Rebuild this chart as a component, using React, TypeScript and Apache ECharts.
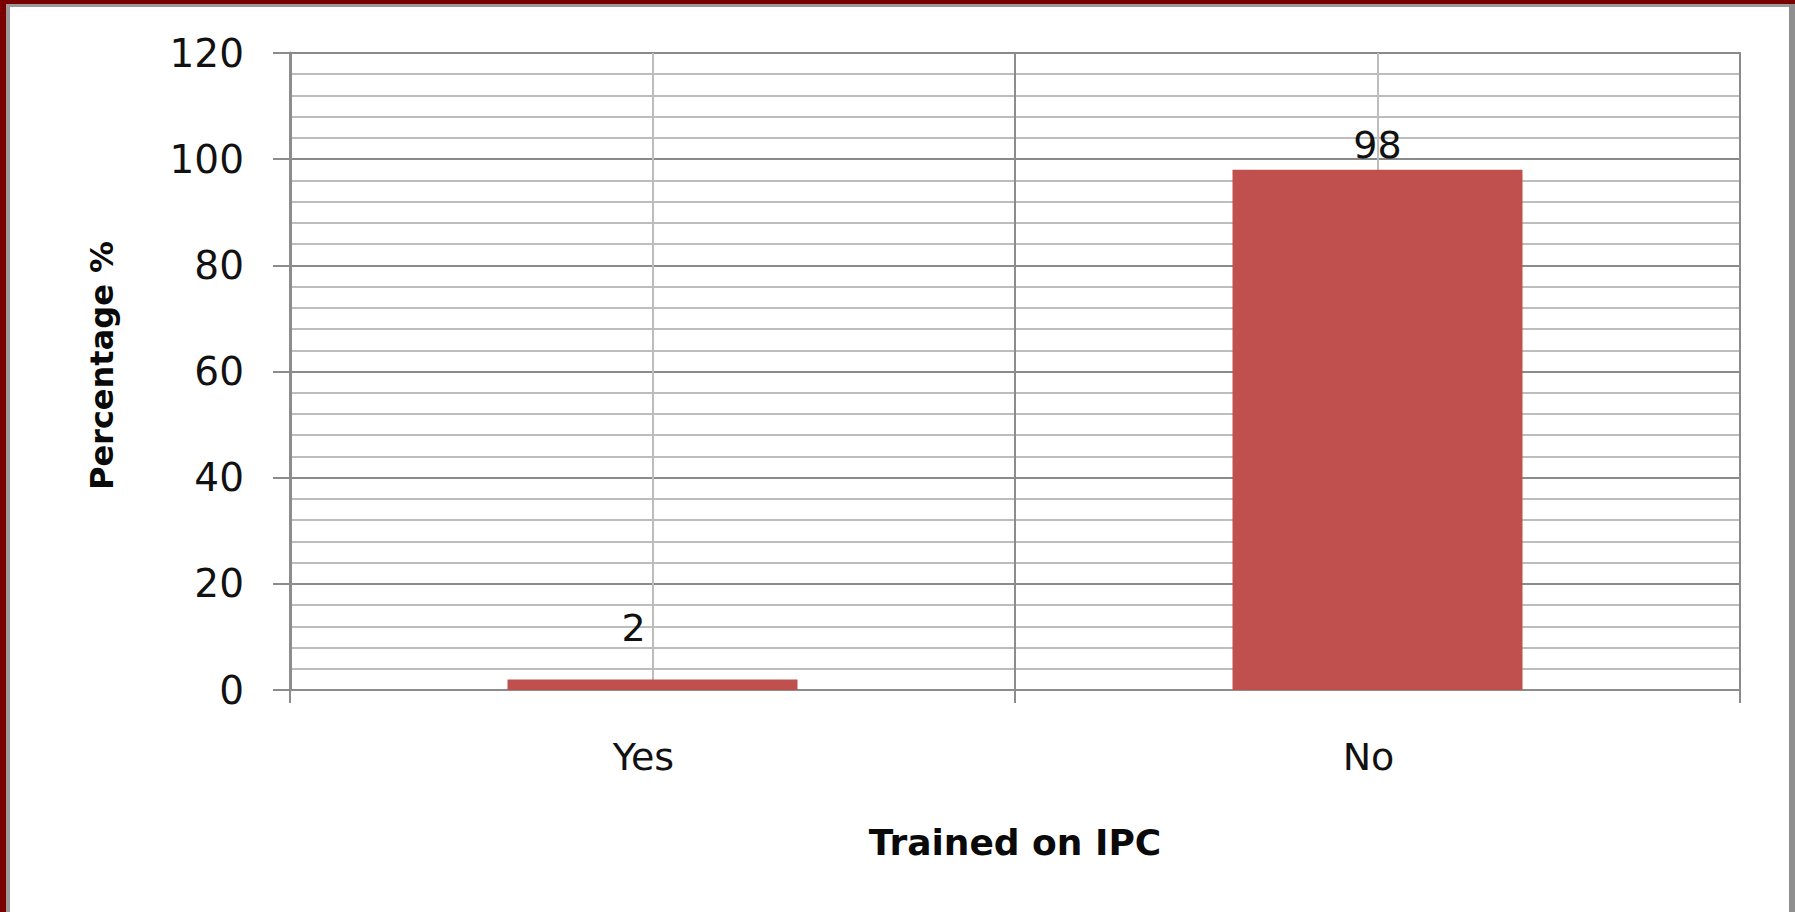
import React, { useEffect, useRef } from "react";
import * as echarts from "echarts";

const categories = ["Yes", "No"];
const percentages = [2, 98];
const yTicks = [0, 20, 40, 60, 80, 100, 120];
const xTitle = "Trained on IPC";
const yTitle = "Percentage %";

export default function App() {
  const ref = useRef<HTMLDivElement>(null);

  useEffect(() => {
    if (!ref.current) return;
    const chart = echarts.init(ref.current, null, { renderer: "svg" });
    const font = "DejaVu Sans";
    chart.setOption({
      animation: false,
      backgroundColor: "#ffffff",
      grid: {
        left: 290,
        right: 55,
        top: 53,
        bottom: 222,
        show: true,
        borderColor: "#8c8c8c",
        borderWidth: 2,
      },
      xAxis: {
        type: "category",
        data: categories,
        boundaryGap: true,
        name: xTitle,
        nameLocation: "middle",
        nameGap: 134,
        nameTextStyle: { fontFamily: font, fontWeight: "bold", fontSize: 36, color: "#0a0a0a" },
        axisLine: { show: true, lineStyle: { color: "#8c8c8c", width: 2 } },
        axisTick: { show: true, length: 13, lineStyle: { color: "#8c8c8c", width: 2 } },
        axisLabel: {
          fontFamily: font,
          fontSize: 38,
          color: "#111",
          margin: 48,
          padding: [0, 18, 0, 0],
        },
        splitLine: { show: true, lineStyle: { color: "#8c8c8c", width: 2 } },
      },
      yAxis: {
        type: "value",
        min: yTicks[0],
        max: yTicks[yTicks.length - 1],
        interval: yTicks[1] - yTicks[0],
        name: yTitle,
        nameLocation: "middle",
        nameGap: 172,
        nameRotate: 90,
        nameTextStyle: {
          fontFamily: font,
          fontWeight: "bold",
          fontSize: 32,
          color: "#0a0a0a",
          padding: [0, 0, 0, 12],
        },
        axisLine: { show: true, lineStyle: { color: "#8c8c8c", width: 3 } },
        axisTick: { show: true, length: 17, lineStyle: { color: "#8c8c8c", width: 2 } },
        axisLabel: { fontFamily: font, fontSize: 39, color: "#111", margin: 46 },
        splitLine: { show: true, lineStyle: { color: "#8a8a8a", width: 2 } },
        minorTick: { show: false, splitNumber: 5 },
        minorSplitLine: { show: true, lineStyle: { color: "#bdbdbd", width: 2 } },
      },
      series: [
        {
          type: "bar",
          data: percentages.map((v, i) =>
            i === 0
              ? { value: v, label: { offset: [-19, -26] } }
              : { value: v }
          ),
          barWidth: "40%",
          z: 2,
          itemStyle: { color: "#c0504d" },
          label: {
            show: true,
            position: "top",
            distance: 6,
            fontFamily: font,
            fontSize: 38,
            color: "#111",
          },
          markLine: {
            silent: true,
            z: 1,
            symbol: "none",
            label: { show: false },
            lineStyle: { color: "#bdbdbd", width: 2, type: "solid" },
            data: categories.map((c) => ({ xAxis: c })),
          },
        },
      ],
      graphic: [
        { type: "rect", shape: { x: 0, y: 0, width: 1795, height: 4 }, style: { fill: "#7a0000" }, z: 10 },
        { type: "rect", shape: { x: 0, y: 0, width: 6, height: 912 }, style: { fill: "#7a0000" }, z: 10 },
        { type: "rect", shape: { x: 6, y: 4, width: 1789, height: 3 }, style: { fill: "#9a9a9a" }, z: 10 },
        { type: "rect", shape: { x: 6, y: 4, width: 4, height: 908 }, style: { fill: "#9a9a9a" }, z: 10 },
        { type: "rect", shape: { x: 1789, y: 4, width: 6, height: 908 }, style: { fill: "#8f8f8f" }, z: 10 },
      ],
    });
    return () => chart.dispose();
  }, []);

  return (
    <div
      ref={ref}
      style={{ position: "fixed", left: 0, top: 0, width: 1795, height: 912, background: "#fff" }}
    />
  );
}
